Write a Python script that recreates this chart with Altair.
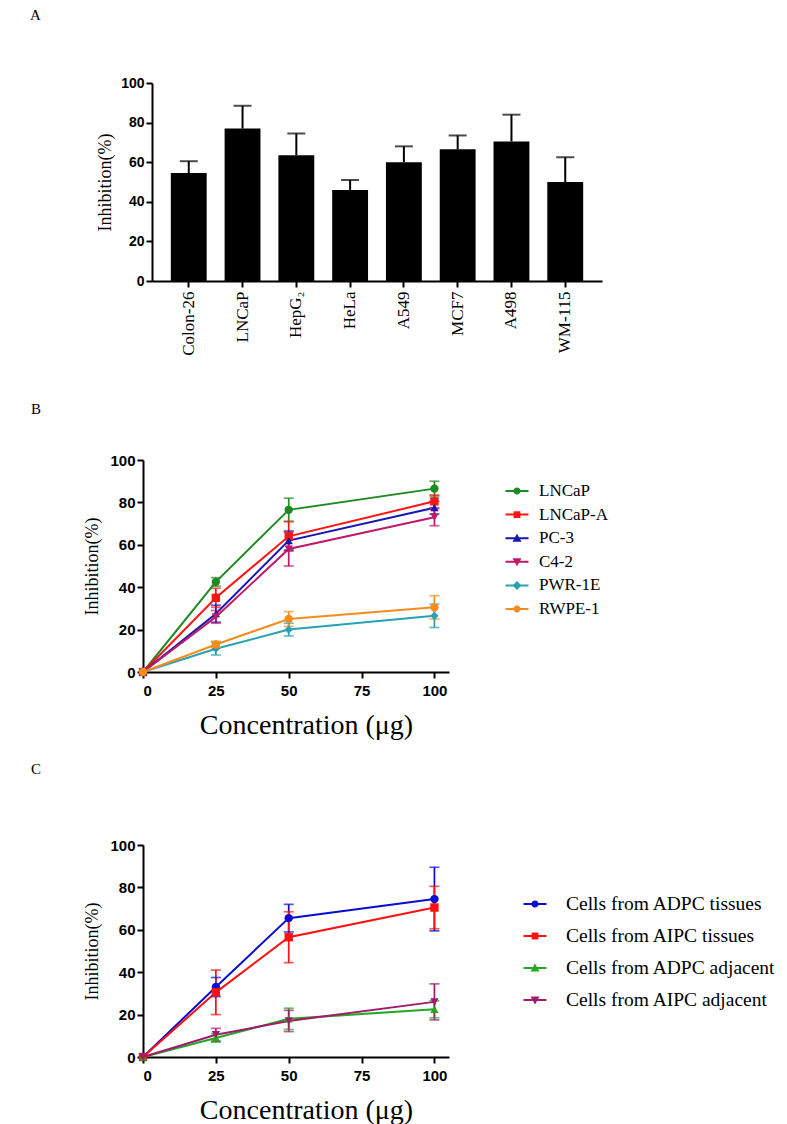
import altair as alt
import pandas as pd

SERIF = "Liberation Serif"
SANS = "Liberation Sans"

# ---------------- Panel A data ----------------
cell_lines = ["Colon-26", "LNCaP", "HepG₂", "HeLa", "A549", "MCF7", "A498", "WM-115"]
inhibition_a = [54.5, 77, 63.5, 46, 60, 66.5, 70.5, 50]
inhibition_a_sd = [6, 11.5, 11, 5, 8, 7, 13.5, 12.5]

# ---------------- Panel B data ----------------
concentration = [0, 25, 50, 100]
b_names = ["LNCaP", "LNCaP-A", "PC-3", "C4-2", "PWR-1E", "RWPE-1"]
b_lncap = [0, 42.5, 76.5, 86.5]
b_lncap_sd = [0, 2, 5.5, 3.5]
b_lncapa = [0, 35, 64, 80.5]
b_lncapa_sd = [0, 4.5, 7, 3]
b_pc3 = [0, 27.5, 62, 77.5]
b_pc3_sd = [0, 4, 4.5, 3]
b_c42 = [0, 26, 58, 73]
b_c42_sd = [0, 3, 8, 4]
b_pwr = [0, 11, 20, 26.5]
b_pwr_sd = [0, 3, 3, 5.5]
b_rwpe = [0, 13, 25, 30.5]
b_rwpe_sd = [0, 1.5, 3.5, 5.5]
b_colors = ["#1f8a24", "#ff1414", "#1616b0", "#c0186a", "#27a2b4", "#f68c1e"]
b_shapes = ["circle", "square", "triangle-up", "triangle-down", "diamond", "circle"]

# ---------------- Panel C data ----------------
c_names = ["Cells from ADPC tissues", "Cells from AIPC tissues",
           "Cells from ADPC adjacent", "Cells from AIPC adjacent"]
c_adpc_t = [0, 33, 65.5, 74.5]
c_adpc_t_sd = [0, 4.5, 6.5, 15]
c_aipc_t = [0, 30.5, 56.5, 70.5]
c_aipc_t_sd = [0, 10.5, 12, 10]
c_adpc_a = [0, 9, 18, 22.5]
c_adpc_a_sd = [0, 2, 5, 4]
c_aipc_a = [0, 10.5, 17, 26]
c_aipc_a_sd = [0, 3, 5, 8.5]
c_colors = ["#0c0cd0", "#ff1010", "#22a822", "#a3196b"]
c_shapes = ["circle", "square", "triangle-up", "triangle-down"]

# legend symbols: marker drawn over a short line (GraphPad style)
LINE = "M-1.15,-0.1 L1.15,-0.1 L1.15,0.1 L-1.15,0.1 Z "
PATHS = {
    "circle": LINE + "M0.36,0 A0.36,0.36 0 1,1 -0.36,0 A0.36,0.36 0 1,1 0.36,0 Z",
    "square": LINE + "M-0.34,-0.34 L0.34,-0.34 L0.34,0.34 L-0.34,0.34 Z",
    "triangle-up": LINE + "M0,-0.45 L0.45,0.35 L-0.45,0.35 Z",
    "triangle-down": LINE + "M0,0.45 L-0.45,-0.35 L0.45,-0.35 Z",
    "diamond": LINE + "M0,-0.45 L0.45,0 L0,0.45 L-0.45,0 Z",
}


def long_df(names, means, sds):
    rows = []
    for name, m, s in zip(names, means, sds):
        for c, v, e in zip(concentration, m, s):
            rows.append({"series": name, "conc": c, "mean": v, "sd": e,
                         "lo": v - e, "hi": v + e})
    return pd.DataFrame(rows)


# ---------------- Panel A chart ----------------
dfA = pd.DataFrame({"cell": cell_lines, "inh": inhibition_a, "sd": inhibition_a_sd})
dfA["top"] = dfA["inh"] + dfA["sd"]

# the view is 9px wider / 6px taller than the plot so that panel A lines up with B and C
axisAx = alt.Axis(title=None, labelAngle=-90, labelFont=SERIF, labelFontWeight="normal",
                  labelFontSize=17, labelPadding=4, tickSize=6, offset=-6)
axisAy = alt.Axis(values=[0, 20, 40, 60, 80, 100], title="Inhibition(%)", titleFontSize=18,
                  titlePadding=6, labelFontSize=14, labelPadding=2, offset=-9)
scAx = alt.Scale(paddingInner=0.333, paddingOuter=0.35, range=[9, 459])
scAy = alt.Scale(domain=[0, 100], nice=False, range=[198, 0])


def XA():
    return alt.X("cell:N", sort=cell_lines, scale=scAx, axis=axisAx)


def YA(f):
    return alt.Y(f + ":Q", scale=scAy, axis=axisAy)


baseA = alt.Chart(dfA)
bars = baseA.mark_bar(color="black").encode(x=XA(), y=YA("inh"))
errA = baseA.mark_rule(color="black", strokeWidth=2).encode(x=XA(), y=YA("inh"), y2="top:Q")
capA = baseA.mark_tick(color="black", orient="horizontal", size=18, thickness=2).encode(
    x=XA(), y=YA("top"))
chartA = alt.layer(bars, errA, capA).properties(
    width=459, height=204,
    title=alt.Title("A", anchor="start", frame="group", font=SERIF, fontSize=15,
                    fontWeight="normal", dx=-113, dy=-53, offset=0))


# ---------------- line panels ----------------
def line_panel(df, names, colors, shapes, letter, dy, lx, ly, lfont, rowpad, loff):
    cs = alt.Scale(domain=names, range=colors)
    ss = alt.Scale(domain=names, range=shapes)
    sl = alt.Scale(domain=names, range=[PATHS[s] for s in shapes])
    ax = alt.Axis(values=[0, 25, 50, 75, 100], title="Concentration (μg)", titleFontSize=28,
                  titlePadding=13, labelFontSize=15, labelPadding=5, titleX=163)
    ay = alt.Axis(values=[0, 20, 40, 60, 80, 100], title="Inhibition(%)", titleFontSize=18,
                  titlePadding=8, labelFontSize=15, labelPadding=2)
    sx = alt.Scale(domain=[0, 105], nice=False)
    sy = alt.Scale(domain=[0, 100], nice=False)

    def X():
        return alt.X("conc:Q", scale=sx, axis=ax)

    def Y(f):
        return alt.Y(f + ":Q", scale=sy, axis=ay)

    base = alt.Chart(df)
    col = alt.Color("series:N", scale=cs, legend=None)
    line = base.mark_line(strokeWidth=2).encode(x=X(), y=Y("mean"), color=col)
    eb = base.transform_filter("datum.sd > 0")
    rule = eb.mark_rule(strokeWidth=1.7).encode(x=X(), y=Y("lo"), y2="hi:Q", color=col)
    caplo = eb.mark_tick(orient="horizontal", size=10, thickness=1.7).encode(
        x=X(), y=Y("lo"), color=col)
    caphi = eb.mark_tick(orient="horizontal", size=10, thickness=1.7).encode(
        x=X(), y=Y("hi"), color=col)
    pts = base.mark_point(filled=True, size=70, opacity=1).encode(
        x=X(), y=Y("mean"), color=col,
        shape=alt.Shape("series:N", scale=ss, legend=None))
    leg = alt.Legend(orient="none", legendX=lx, legendY=ly, title=None, direction="vertical",
                     labelFont=SERIF, labelFontSize=lfont, labelFontWeight="normal",
                     labelColor="black", symbolSize=400, labelOffset=loff, labelLimit=400,
                     rowPadding=rowpad, padding=0, symbolStrokeWidth=0, symbolOpacity=1)
    # legend-only layer: no marks drawn (empty after filter), scales have explicit domains
    legl = base.transform_filter("datum.conc < 0").mark_point(filled=True).encode(
        x=X(), y=Y("mean"),
        color=alt.Color("series:N", scale=cs, legend=leg),
        shape=alt.Shape("series:N", scale=sl, legend=leg))
    return alt.layer(line, rule, caplo, caphi, pts, legl).resolve_scale(
        color="independent", shape="independent").properties(
        width=306, height=212,
        title=alt.Title(letter, anchor="start", frame="group", font=SERIF, fontSize=15,
                        fontWeight="normal", dx=-112, dy=dy, offset=0))


dfB = long_df(b_names, [b_lncap, b_lncapa, b_pc3, b_c42, b_pwr, b_rwpe],
              [b_lncap_sd, b_lncapa_sd, b_pc3_sd, b_c42_sd, b_pwr_sd, b_rwpe_sd])
dfC = long_df(c_names, [c_adpc_t, c_aipc_t, c_adpc_a, c_aipc_a],
              [c_adpc_t_sd, c_aipc_t_sd, c_adpc_a_sd, c_aipc_a_sd])

chartB = line_panel(dfB, b_names, b_colors, b_shapes, "B", -36, 364, 21, 17, 5.6, 12)
chartC = line_panel(dfC, c_names, c_colors, c_shapes, "C", -61, 382, 49, 19.5, 12, 21)

chart = alt.vconcat(chartA, chartB, chartC, spacing=173, bounds="flush").properties(
    padding={"left": 22, "top": 0, "right": 0, "bottom": 0}
).configure_view(stroke=None).configure_axis(
    domainColor="black", domainWidth=2, tickColor="black", tickWidth=2, tickSize=6,
    labelColor="black", titleColor="black", grid=False, labelFont=SANS,
    labelFontWeight="bold", titleFont=SERIF, titleFontWeight="normal"
).configure_title(color="black")

chart.save("out.html", embed_options={"renderer": "svg", "actions": False})
